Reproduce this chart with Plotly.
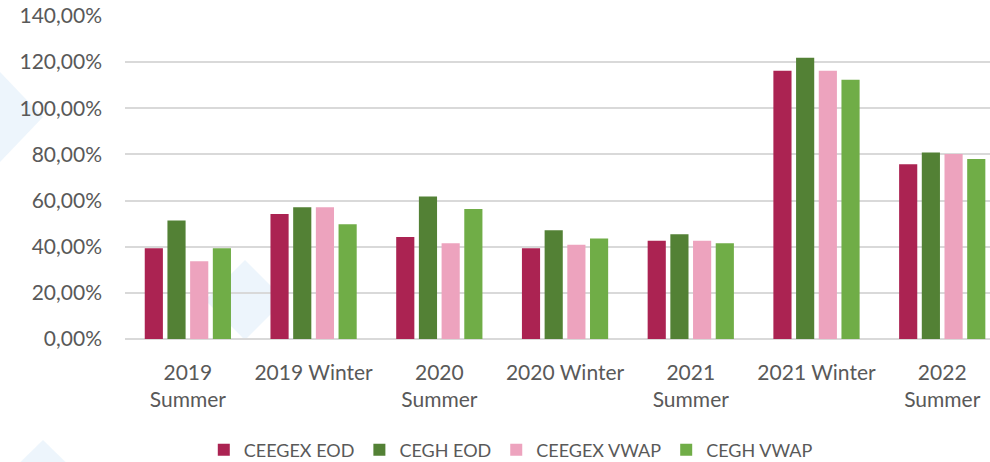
import plotly.graph_objects as go

categories = ["2019<br>Summer", "2019 Winter", "2020<br>Summer", "2020 Winter",
              "2021<br>Summer", "2021 Winter", "2022<br>Summer"]
ceegex_eod = [39.3, 54.2, 44.2, 39.3, 42.6, 116.3, 75.7]
cegh_eod = [51.4, 57.1, 61.8, 47.1, 45.4, 121.9, 80.8]
ceegex_vwap = [33.7, 57.1, 41.5, 40.9, 42.6, 116.3, 80.2]
cegh_vwap = [39.3, 49.7, 56.3, 43.6, 41.5, 112.4, 78.0]
series_names = ["CEEGEX EOD", "CEGH EOD", "CEEGEX VWAP", "CEGH VWAP"]
colors = ["#AB2352", "#538135", "#EDA3BE", "#70AD47"]
tick_vals = [0, 20, 40, 60, 80, 100, 120, 140]
tick_text = ["0,00%", "20,00%", "40,00%", "60,00%", "80,00%", "100,00%", "120,00%", "140,00%"]

W, H = 990, 462
ML, MR, MT, MB = 125, 0, 16, 123
PW, PH = W - ML - MR, H - MT - MB

fig = go.Figure()
for name, vals, col in zip(series_names, [ceegex_eod, cegh_eod, ceegex_vwap, cegh_vwap], colors):
    fig.add_trace(go.Bar(name=name, x=categories, y=vals, marker=dict(color=col, line=dict(width=0))))


def px2paper(x, y):
    return (x - ML) / PW, (H - MB - y) / PH


def poly(pts):
    s = ""
    for i, (x, y) in enumerate(pts):
        px, py = px2paper(x, y)
        s += ("M" if i == 0 else "L") + f"{px:.4f},{py:.4f} "
    return s + "Z"


deco = [
    [(-45, 117), (0, 72), (43, 117), (0, 162)],
    [(205, 300), (245, 260), (285, 300), (245, 340)],
    [(0, 482), (43, 440), (86, 482)],
]
shapes = []
for d in deco:
    shapes.append(dict(type="path", path=poly(d), xref="paper", yref="paper",
                       fillcolor="rgba(220,236,250,0.5)", line=dict(width=0), layer="below"))

font = "Lato, 'Open Sans', sans-serif"
fig.update_layout(
    width=W, height=H,
    margin=dict(l=ML, r=MR, t=MT, b=MB, autoexpand=False),
    paper_bgcolor="white", plot_bgcolor="rgba(0,0,0,0)",
    barmode="group", bargap=0.278, bargroupgap=0.2,
    font=dict(family=font, color="#595959", size=21),
    shapes=shapes,
    legend=dict(orientation="h", x=0.446, xanchor="center", y=-0.344, yanchor="middle",
                font=dict(size=18, color="#595959"), itemwidth=30, traceorder="normal"),
    xaxis=dict(range=[-0.5, 6.38], showgrid=False, showline=False, zeroline=False,
               tickfont=dict(size=21, color="#595959"), ticks="", ticklabelstandoff=19,
               automargin=False),
    yaxis=dict(range=[0, 140], tickvals=tick_vals, ticktext=tick_text,
               showgrid=True, gridcolor="#D9D9D9", gridwidth=1.6,
               zeroline=True, zerolinecolor="#D9D9D9", zerolinewidth=1.6,
               showline=False, tickfont=dict(size=21, color="#595959"),
               ticklabelstandoff=22, automargin=False),
)

fig.write_html("out.html", config={"displayModeBar": False},
               post_script="document.body.style.margin='0';document.body.style.overflow='hidden';")
